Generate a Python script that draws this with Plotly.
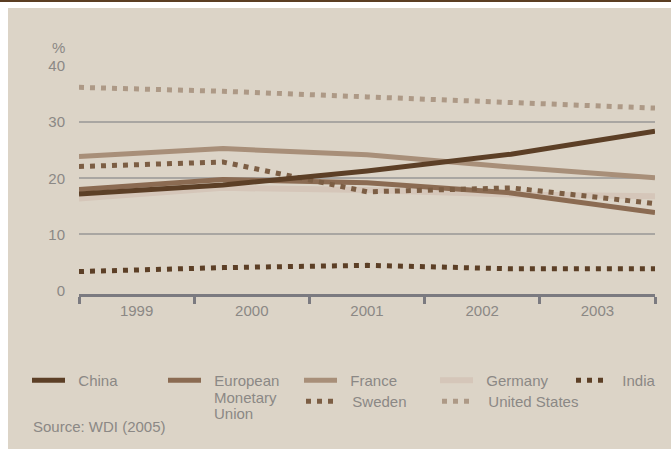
import plotly.graph_objects as go

years = [1999, 2000, 2001, 2002, 2003]
china = [17.2, 18.8, 21.3, 24.3, 28.4]
emu = [18.0, 19.8, 19.2, 17.4, 13.9]
france = [23.9, 25.3, 24.2, 22.0, 20.1]
germany = [16.4, 18.3, 17.9, 17.1, 16.8]
india = [3.4, 4.1, 4.5, 3.9, 3.9]
sweden = [22.1, 22.9, 17.6, 18.3, 15.5]
usa = [36.2, 35.5, 34.5, 33.6, 32.5]
y_ticks = [0, 10, 20, 30, 40]

W, H = 671, 449
L, R, T, B = 79, 16, 66, 155
PW, PH = W - L - R, H - T - B

def px(x):
    return (x - L) / PW

def py(y):
    return (H - B - y) / PH

BG = "#dcd4c7"
TXT = "#8b8885"
FONT = "Liberation Sans, Arial, sans-serif"
DOT = "5px,6px"
PAD = "\u00a0\u00a0"

series = [
    # name, values, color, dash, width, legend, rank, legendwidth
    ("Germany", germany, "#d5c6b9", "solid", 6, "legend", 4, None),
    ("United States", usa, "#ad9986", DOT, 5, "legend2", 2, 120),
    ("France", france, "#a88f79", "solid", 5, "legend", 3, None),
    ("European", emu, "#8b6b52", "solid", 5, "legend", 2, None),
    ("Sweden", sweden, "#7c5e44", DOT, 5, "legend2", 1, None),
    ("China", china, "#5c3f26", "solid", 5, "legend", 1, None),
    ("India", india, "#5c3f26", DOT, 5, "legend", 5, 45),
]

fig = go.Figure()
for name, vals, col, dash, w, lg, rank, lw in series:
    kw = {}
    if lw is not None:
        kw["legendwidth"] = lw
    fig.add_trace(go.Scatter(
        x=years, y=vals, mode="lines", name=PAD + name,
        line=dict(color=col, width=w, dash=dash),
        legend=lg, legendrank=rank, **kw))

n = len(years)
span = years[-1] - years[0]
step = span / n
bounds = [years[0] + i * step for i in range(n + 1)]
centers = [years[0] + (i + 0.5) * step for i in range(n)]

leg_common = dict(
    orientation="h", xanchor="left", yanchor="top",
    xref="paper", yref="paper",
    bgcolor="rgba(0,0,0,0)", borderwidth=0,
    font=dict(family=FONT, size=15, color=TXT),
    itemwidth=33, entrywidth=88, entrywidthmode="pixels",
    tracegroupgap=0, itemclick=False,
)

fig.update_layout(
    width=W, height=H,
    margin=dict(l=L, r=R, t=T, b=B, autoexpand=False),
    paper_bgcolor=BG, plot_bgcolor=BG,
    font=dict(family=FONT, size=15, color=TXT),
    showlegend=True,
    legend=dict(x=px(27), y=py(364), **leg_common),
    legend2=dict(x=px(301), y=py(385), **leg_common),
    xaxis=dict(
        range=[years[0], years[-1]],
        tickmode="array", tickvals=centers, ticktext=[str(y) for y in years],
        ticks="", showgrid=False, zeroline=False,
        showline=True, linecolor="#7b7a80", linewidth=3,
        ticklabelstandoff=1,
        tickfont=dict(family=FONT, size=15, color=TXT),
        minor=dict(tickmode="array", tickvals=bounds, ticks="outside",
                   ticklen=7, tickwidth=3, tickcolor="#7b7a80", showgrid=False),
    ),
    yaxis=dict(
        range=[-0.6, 40],
        tickmode="array", tickvals=y_ticks,
        ticks="", showgrid=False, zeroline=False, showline=False,
        ticklabelstandoff=13,
        tickfont=dict(family=FONT, size=15, color=TXT),
        minor=dict(tickmode="array", tickvals=y_ticks[1:], ticks="",
                   showgrid=True, gridcolor="#a9a6a2", gridwidth=1.5),
    ),
    shapes=[
        dict(type="rect", xref="paper", yref="paper",
             x0=px(0), x1=px(W), y0=py(8), y1=py(0),
             fillcolor="white", line=dict(width=0), layer="below"),
        dict(type="rect", xref="paper", yref="paper",
             x0=px(0), x1=px(8), y0=py(H), y1=py(0),
             fillcolor="white", line=dict(width=0), layer="below"),
        dict(type="rect", xref="paper", yref="paper",
             x0=px(0), x1=px(W), y0=py(2), y1=py(0),
             fillcolor="#5a3d22", line=dict(width=0), layer="below"),
    ],
    annotations=[
        dict(text="%", xref="paper", yref="paper", x=px(58), y=py(48),
             xanchor="center", yanchor="middle", showarrow=False,
             font=dict(family=FONT, size=15, color=TXT)),
        dict(text="Monetary", xref="paper", yref="paper", x=px(212), y=py(397),
             xanchor="left", yanchor="middle", showarrow=False,
             font=dict(family=FONT, size=15, color=TXT)),
        dict(text="Union", xref="paper", yref="paper", x=px(212), y=py(413),
             xanchor="left", yanchor="middle", showarrow=False,
             font=dict(family=FONT, size=15, color=TXT)),
        dict(text="Source: WDI (2005)", xref="paper", yref="paper", x=px(31), y=py(426),
             xanchor="left", yanchor="middle", showarrow=False,
             font=dict(family=FONT, size=15, color=TXT)),
    ],
)

fig.write_html("out.html")
